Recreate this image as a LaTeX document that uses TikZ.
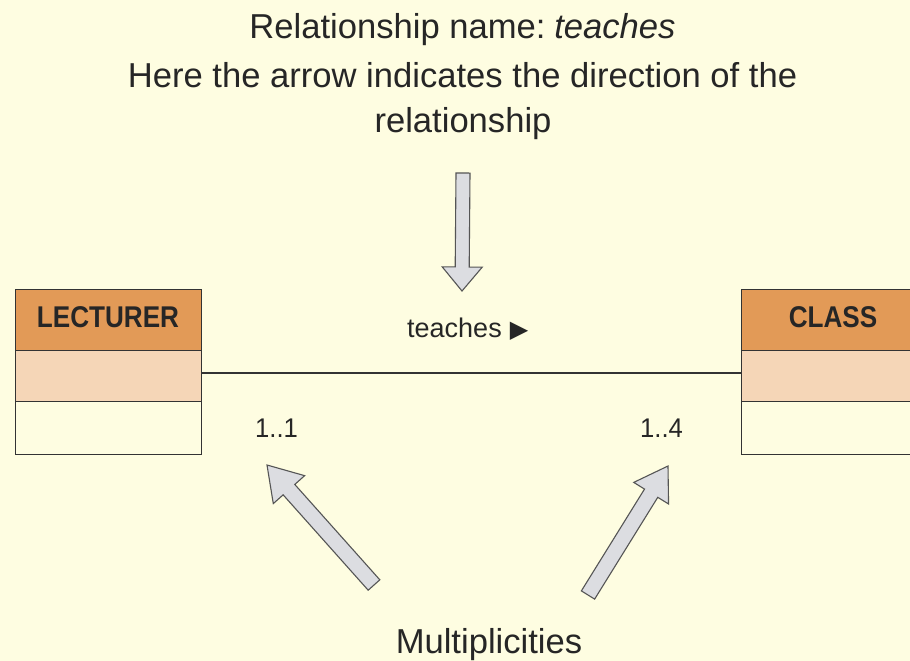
\documentclass[tikz,border=0pt]{standalone}
\usepackage{fontspec}
\setmainfont{Liberation Sans}
\newfontfamily\hdrfont{Liberation Sans}[FakeStretch=0.87]
\newfontfamily\lblfont{Liberation Sans}[FakeStretch=0.95]
\newfontfamily\symfont{DejaVu Sans}
\usetikzlibrary{calc}

\definecolor{paper}{HTML}{FEFDE1}
\definecolor{hdrorange}{HTML}{E29A57}
\definecolor{attrpeach}{HTML}{F5D6B7}
\definecolor{inkline}{HTML}{333333}
\definecolor{inktext}{HTML}{262626}
\definecolor{arrowfill}{HTML}{DCDDE1}
\definecolor{arrowedge}{HTML}{555555}

\tikzset{
  cell/.style={draw=inkline, line width=1.3pt, inner sep=0pt, anchor=north west},
  hdrcell/.style={cell, fill=hdrorange},
  attrcell/.style={cell, fill=attrpeach},
  opcell/.style={cell, fill=paper},
  hdrtext/.style={text=inktext, inner sep=0pt, anchor=base,
    font=\hdrfont\bfseries\fontsize{30}{36}\selectfont},
  note/.style={text=inktext, inner sep=0pt, anchor=base,
    font=\fontsize{34.6}{42}\selectfont},
  small/.style={text=inktext, inner sep=0pt, anchor=base west,
    font=\lblfont\fontsize{27}{32}\selectfont},
  blockarr/.style={draw=arrowedge, fill=arrowfill, line width=1.1pt, line join=miter},
  assoc/.style={draw=inkline, line width=1.3pt}
}

% hollow block arrow: tail, tip, shaft half width, head half width, head length
\newcommand\blockarrow[5]{%
  \path ($(#2)!#5!(#1)$) coordinate (bh);
  \draw[blockarr]
    ($(#1)!#3!90:(#2)$) -- ($(bh)!#3!90:(#2)$) -- ($(bh)!#4!90:(#2)$)
    -- (#2)
    -- ($(bh)!#4!-90:(#2)$) -- ($(bh)!#3!-90:(#2)$) -- ($(#1)!#3!-90:(#2)$)
    -- cycle;
}

\begin{document}
\begin{tikzpicture}[x=1pt, y=-1pt]
  \clip (0,0) rectangle (910,661);
  \fill[paper] (0,0) rectangle (910,661);

  % explanatory text at the top
  \node[note] (t1) at (462.5,39) {Relationship name:\hspace{0.25em}\textit{teaches}};
  \node[note] (t2) at (462.5,88) {Here the arrow indicates the direction of the};
  \node[note] (t3) at (463,132) {relationship};

  % class LECTURER
  \node[hdrcell, minimum width=186pt, minimum height=61pt] (lecH) at (15,289) {};
  \node[attrcell, minimum width=186pt, minimum height=51pt] (lecA) at (15,350) {};
  \node[opcell, minimum width=186pt, minimum height=53pt] (lecO) at (15,401) {};
  \node[hdrtext] (lecT) at (108,327) {LECTURER};

  % class CLASS (runs past the right edge)
  \node[hdrcell, minimum width=184pt, minimum height=61pt] (clsH) at (741,289) {};
  \node[attrcell, minimum width=184pt, minimum height=51pt] (clsA) at (741,350) {};
  \node[opcell, minimum width=184pt, minimum height=53pt] (clsO) at (741,401) {};
  \node[hdrtext] (clsT) at (833,327) {CLASS};

  % association with its name and multiplicities
  \coordinate (line) at (0,373);
  \draw[assoc] (lecA.east |- line) -- (clsA.west |- line);
  \node[small, font=\fontsize{27}{32}\selectfont] (rel) at (407,337)
    {teaches\hspace{8pt}{\symfont\fontsize{24}{28}\selectfont ▶}};
  \node[small] (m1) at (255,437) {1..1};
  \node[small] (m2) at (640,437) {1..4};

  % pointer arrows
  \coordinate (dT) at (463,173);
  \coordinate (dH) at (462,291);
  \blockarrow{dT}{dH}{7pt}{20pt}{24pt}

  \coordinate (lT) at (374,585);
  \coordinate (lH) at (267,465);
  \blockarrow{lT}{lH}{7.8pt}{21pt}{33pt}

  \coordinate (rT) at (588,595);
  \coordinate (rH) at (668,466);
  \blockarrow{rT}{rH}{7.8pt}{20.5pt}{32pt}

  \node[note] (mult) at (489,653) {Multiplicities};
\end{tikzpicture}
\end{document}
